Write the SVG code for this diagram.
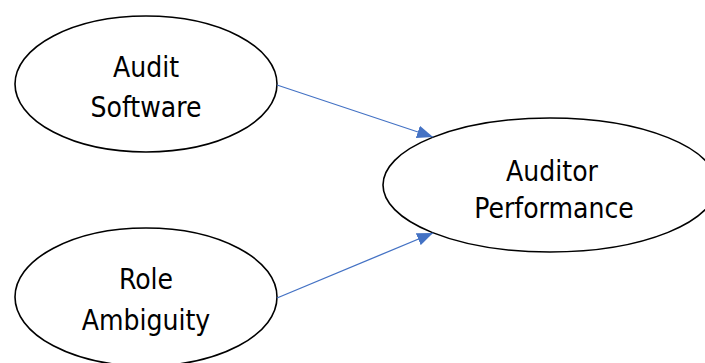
<svg xmlns="http://www.w3.org/2000/svg" width="705" height="363" viewBox="0 0 705 363">
  <style>
    .node ellipse { fill: #ffffff; stroke: #000000; stroke-width: 1.6; }
    .node text { font-family: "DejaVu Sans Condensed", "DejaVu Sans", sans-serif; font-size: 28px; fill: #000000; text-anchor: middle; }
    .edge { stroke: #4472C4; stroke-width: 1.3; fill: none; marker-end: url(#arrow); }
  </style>
  <defs>
    <marker id="arrow" markerUnits="userSpaceOnUse" markerWidth="17" markerHeight="13" refX="16" refY="6.5" orient="auto">
      <path d="M0,0 L16,6.5 L0,13 z" fill="#4472C4"/>
    </marker>
  </defs>
  <rect width="705" height="363" fill="#ffffff"/>
  <g id="node-audit-software" class="node">
    <ellipse cx="146" cy="84" rx="131" ry="68"/>
    <text x="146" y="77">Audit</text>
    <text x="146" y="117">Software</text>
  </g>
  <g id="node-role-ambiguity" class="node">
    <ellipse cx="146" cy="297" rx="131" ry="69"/>
    <text x="146" y="289">Role</text>
    <text x="146" y="330">Ambiguity</text>
  </g>
  <g id="node-auditor-performance" class="node">
    <ellipse cx="550" cy="185" rx="167" ry="67"/>
    <text x="552" y="181">Auditor</text>
    <text x="554" y="218">Performance</text>
  </g>
  <g id="connectors">
    <line class="edge" x1="277" y1="85" x2="433" y2="137"/>
    <line class="edge" x1="277" y1="298" x2="433" y2="233"/>
  </g>
</svg>
